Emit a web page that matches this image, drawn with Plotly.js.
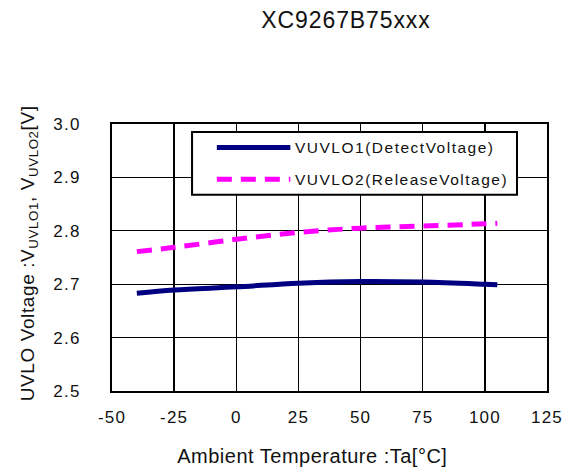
<!DOCTYPE html>
<html>
<head>
<meta charset="utf-8">
<script src="https://cdn.plot.ly/plotly-3.0.1.min.js"></script>
<style>
html,body{margin:0;padding:0;background:#fff;}
#chart{width:566px;height:468px;}
#chart .xtick text, #chart .ytick text{letter-spacing:1.2px;}
#chart .gtitle{letter-spacing:0.9px;}
</style>
</head>
<body>
<div id="chart"></div>
<script>
// Data
var temperature = [-40, -25, 0, 25, 50, 75, 100, 105];
var vuvlo1 = [2.683, 2.689, 2.695, 2.702, 2.705, 2.704, 2.700, 2.699];
var vuvlo2 = [2.761, 2.769, 2.784, 2.797, 2.805, 2.809, 2.813, 2.814];
var seriesNames = ['VUVLO1(DetectVoltage)', 'VUVLO2(ReleaseVoltage)'];
var xTicks = [-50, -25, 0, 25, 50, 75, 100, 125];
var yTicks = [2.5, 2.6, 2.7, 2.8, 2.9, 3.0];
var chartTitle = 'XC9267B75xxx';
var xTitle = 'Ambient Temperature :Ta[°C]';
var yTitle = 'UVLO Voltage :V<sub>UVLO1</sub>, V<sub>UVLO2</sub>[V]';

var FONT = 'Liberation Sans, Arial, sans-serif';
var TXT = '#111';
var traces = [
  {x: temperature, y: vuvlo1, name: seriesNames[0], mode: 'lines',
   line: {color: '#000080', width: 5, shape: 'spline'}, showlegend: false},
  {x: temperature, y: vuvlo2, name: seriesNames[1], mode: 'lines',
   line: {color: '#FF00FF', width: 5, dash: '15px,9px', shape: 'spline'}, showlegend: false}
];

var layout = {
  width: 566, height: 468,
  margin: {l: 112, r: 19, t: 124, b: 77},
  paper_bgcolor: '#fff', plot_bgcolor: '#fff',
  font: {family: FONT, color: TXT},
  showlegend: false,
  xaxis: {
    range: [-50, 125], tickvals: xTicks, ticktext: xTicks.map(String),
    showgrid: true, gridcolor: '#000', gridwidth: 1.3,
    zeroline: false, showline: true, linecolor: '#000', linewidth: 2, mirror: true,
    ticks: '', ticklabelstandoff: 10, tickfont: {size: 17, family: FONT, color: TXT}
  },
  yaxis: {
    range: [2.5, 3.0], tickvals: yTicks, ticktext: yTicks.map(function(v){return v.toFixed(1);}),
    showgrid: true, gridcolor: '#000', gridwidth: 1.3,
    zeroline: false, showline: true, linecolor: '#000', linewidth: 2, mirror: true,
    ticks: '', ticklabelstandoff: 26, tickfont: {size: 17, family: FONT, color: TXT}
  },
  title: {text: chartTitle, font: {size: 23, family: FONT, color: TXT},
          x: 346/566, xanchor: 'center', y: 1 - 20/468, yanchor: 'middle', xref: 'container', yref: 'container'},
  shapes: [
    {type: 'rect', xref: 'paper', yref: 'paper', x0: 0.184, x1: 0.931, y0: 0.735, y1: 0.970,
     line: {color: '#000', width: 2}, fillcolor: '#fff', layer: 'above'},
    {type: 'line', xref: 'paper', yref: 'paper', x0: 0.241, x1: 0.410, y0: 0.912, y1: 0.912,
     line: {color: '#000080', width: 5}, layer: 'above'},
    {type: 'line', xref: 'paper', yref: 'paper', x0: 0.241, x1: 0.410, y0: 0.793, y1: 0.793,
     line: {color: '#FF00FF', width: 5, dash: '15px,9px'}, layer: 'above'}
  ],
  annotations: [
    {xref: 'paper', yref: 'paper', x: 0.417, y: 0.912, xanchor: 'left', yanchor: 'middle', align: 'left',
     text: seriesNames[0], showarrow: false, font: {size: 15.5, family: FONT, color: TXT}},
    {xref: 'paper', yref: 'paper', x: 0.417, y: 0.793, xanchor: 'left', yanchor: 'middle', align: 'left',
     text: seriesNames[1], showarrow: false, font: {size: 15.5, family: FONT, color: TXT}},
    {xref: 'paper', yref: 'paper', x: (312 - 112) / 435, y: (390.7 - 456) / 266.4, xanchor: 'center', yanchor: 'middle',
     text: xTitle, showarrow: false, font: {size: 20, family: FONT, color: TXT}},
    {xref: 'paper', yref: 'paper', x: (29 - 112) / 435, y: (390.7 - 254) / 266.4, xanchor: 'center', yanchor: 'middle',
     text: yTitle, textangle: -90, showarrow: false, font: {size: 19, family: FONT, color: TXT}}
  ]
};

Plotly.newPlot('chart', traces, layout, {displayModeBar: false, staticPlot: true}).then(function () {
  var spacing = ['1.5px', '1.5px', '0.5px', '0.6px'];
  var texts = document.querySelectorAll('#chart .annotation-text');
  for (var i = 0; i < texts.length; i++) {
    texts[i].style.letterSpacing = spacing[i] || '0px';
  }
});
</script>
</body>
</html>
